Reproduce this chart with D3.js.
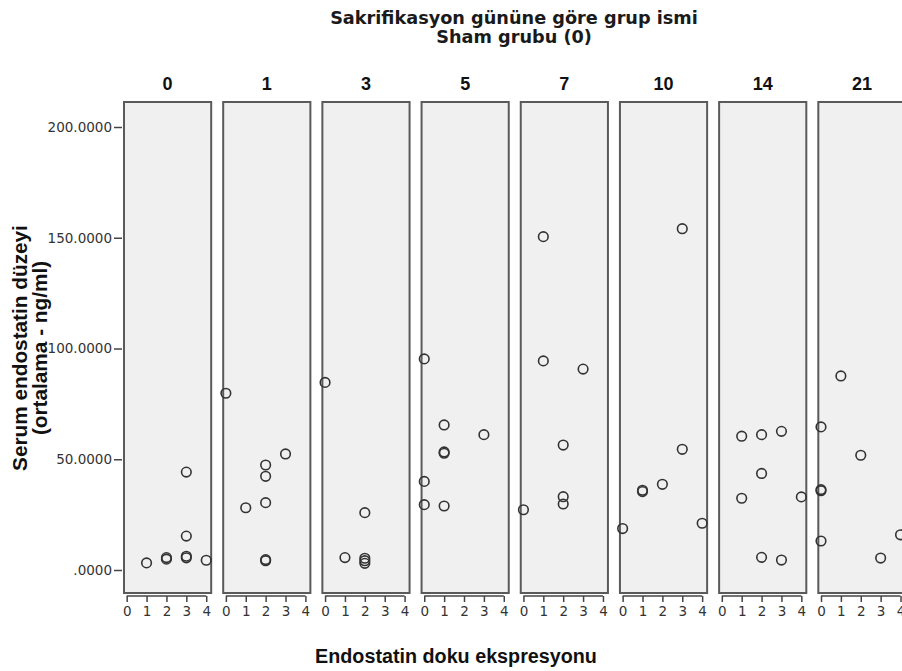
<!DOCTYPE html>
<html>
<head>
<meta charset="utf-8">
<script src="https://cdn.jsdelivr.net/npm/d3@7"></script>
<style>
  body { margin: 0; background: #fff; }
  svg { display: block; }
</style>
</head>
<body>
<svg id="chart" width="902" height="671"></svg>
<script>
// Sacrifice-day groups (one panel each)
const days = ["0", "1", "3", "5", "7", "10", "14", "21"];
const xTicks = [0, 1, 2, 3, 4];
const yTicks = [0, 50, 100, 150, 200];

// [tissue expression score, mean serum endostatin (ng/ml)] per day group
const day0  = [[1, 3.2], [2, 4.9], [2, 5.6], [3, 5.5], [3, 6.2], [4, 4.4], [3, 15.3], [3, 44.2]];
const day1  = [[0, 79.8], [1, 28.1], [2, 30.4], [2, 42.3], [2, 47.4], [3, 52.4], [2, 4.2], [2, 4.7]];
const day3  = [[0, 84.7], [1, 5.6], [2, 25.9], [2, 5.3], [2, 4.2], [2, 3.0]];
const day5  = [[0, 95.3], [1, 65.5], [3, 61.1], [1, 52.7], [1, 53.3], [0, 40.0], [0, 29.5], [1, 28.9]];
const day7  = [[1, 150.5], [1, 94.4], [3, 90.7], [2, 56.4], [2, 33.1], [2, 29.8], [0, 27.2]];
const day10 = [[3, 154.1], [3, 54.5], [2, 38.7], [1, 35.4], [1, 36.0], [0, 18.7], [4, 21.1]];
const day14 = [[1, 60.4], [2, 61.1], [3, 62.6], [2, 43.6], [1, 32.4], [4, 33.0], [2, 5.7], [3, 4.5]];
const day21 = [[1, 87.6], [0, 64.6], [2, 51.8], [0, 35.8], [0, 36.3], [0, 13.1], [3, 5.4], [4, 15.9]];

const groups = [day0, day1, day3, day5, day7, day10, day14, day21];

const svg = d3.select("#chart");
const sansBold = "'Liberation Sans', Arial, sans-serif";
const tickFont = "'DejaVu Sans', Verdana, sans-serif";

const panelTop = 102, panelBottom = 593;

const panel = d3.scaleBand()
  .domain(days)
  .range([124, 905.5])
  .paddingInner(12 / 99.19)
  .paddingOuter(0);

const x = d3.scaleLinear().domain([-0.135, 4.25]).range([0, panel.bandwidth()]);
const y = d3.scaleLinear().domain([0, 200]).range([570, 127]);

// scale a text element's font so that it spans the given width
function fitWidth(sel, w) {
  const fs = parseFloat(sel.attr("font-size"));
  const cur = sel.node().getComputedTextLength();
  if (cur > 0) sel.attr("font-size", fs * w / cur);
  return sel;
}

// Chart title
const t1 = svg.append("text")
  .attr("x", 514).attr("y", 24)
  .attr("text-anchor", "middle")
  .attr("font-family", "'DejaVu Sans', Tahoma, sans-serif")
  .attr("font-weight", "bold")
  .attr("font-size", 15)
  .attr("fill", "#1a1a1a")
  .text("Sakrifikasyon gününe göre grup ismi");
fitWidth(t1, 368);
const t2 = svg.append("text")
  .attr("x", 514).attr("y", 43)
  .attr("text-anchor", "middle")
  .attr("font-family", "'DejaVu Sans', Tahoma, sans-serif")
  .attr("font-weight", "bold")
  .attr("font-size", t1.attr("font-size"))
  .attr("fill", "#1a1a1a")
  .text("Sham grubu (0)");

// Panels
const panels = svg.selectAll("g.panel")
  .data(days.map((d, i) => ({ day: d, pts: groups[i] })))
  .join("g")
  .attr("class", "panel")
  .attr("transform", d => `translate(${panel(d.day)},0)`);

panels.append("text")
  .attr("x", panel.bandwidth() / 2)
  .attr("y", 90)
  .attr("text-anchor", "middle")
  .attr("font-family", sansBold)
  .attr("font-weight", "bold")
  .attr("font-size", 18)
  .attr("fill", "#111")
  .text(d => d.day);

panels.append("rect")
  .attr("x", 0).attr("y", panelTop)
  .attr("width", panel.bandwidth())
  .attr("height", panelBottom - panelTop)
  .attr("fill", "#f0f0f0")
  .attr("stroke", "#5a5a5a")
  .attr("stroke-width", 2);

panels.selectAll("circle")
  .data(d => d.pts)
  .join("circle")
  .attr("cx", d => x(d[0]))
  .attr("cy", d => y(d[1]))
  .attr("r", 4.8)
  .attr("fill", "none")
  .attr("stroke", "#333")
  .attr("stroke-width", 1.6);

// x axis under each panel
panels.each(function () {
  const g = d3.select(this).append("g")
    .attr("transform", `translate(0,596)`)
    .call(d3.axisBottom(x).tickValues(xTicks).tickSize(6).tickPadding(4).tickFormat(d3.format("d")));
  g.select(".domain").remove();
  g.append("line")
    .attr("x1", x(xTicks[0])).attr("x2", x(xTicks[xTicks.length - 1]))
    .attr("stroke", "#444").attr("stroke-width", 1.5);
  g.selectAll(".tick line").attr("stroke", "#444").attr("stroke-width", 1.5);
  g.selectAll(".tick text")
    .attr("font-family", tickFont)
    .attr("font-size", 13.5)
    .attr("fill", "#333");
});

// y axis
const yAxis = svg.append("g")
  .attr("transform", "translate(122,0)")
  .call(d3.axisLeft(y).tickValues(yTicks).tickSize(8).tickPadding(2)
    .tickFormat(d => d === 0 ? ".0000" : d3.format(".4f")(d)));
yAxis.select(".domain").remove();
yAxis.selectAll(".tick line").attr("stroke", "#444").attr("stroke-width", 1.5);
yAxis.selectAll(".tick text")
  .attr("font-family", tickFont)
  .attr("font-size", 13.5)
  .attr("fill", "#333");

// Axis titles
const xt = svg.append("text")
  .attr("x", 456).attr("y", 663)
  .attr("text-anchor", "middle")
  .attr("font-family", sansBold)
  .attr("font-weight", "bold")
  .attr("font-size", 15)
  .attr("fill", "#111")
  .text("Endostatin doku ekspresyonu");
fitWidth(xt, 282);

const yt = svg.append("text")
  .attr("transform", "translate(27,348) rotate(-90)")
  .attr("text-anchor", "middle")
  .attr("font-family", sansBold)
  .attr("font-weight", "bold")
  .attr("font-size", 15)
  .attr("fill", "#111");
const yl1 = yt.append("tspan").attr("x", 0).attr("y", 0).text("Serum endostatin düzeyi");
yt.append("tspan").attr("x", 0).attr("y", 20).text("(ortalama - ng/ml)");
const yw = yl1.node().getComputedTextLength();
yt.attr("font-size", 15 * 246 / yw);
</script>
</body>
</html>
